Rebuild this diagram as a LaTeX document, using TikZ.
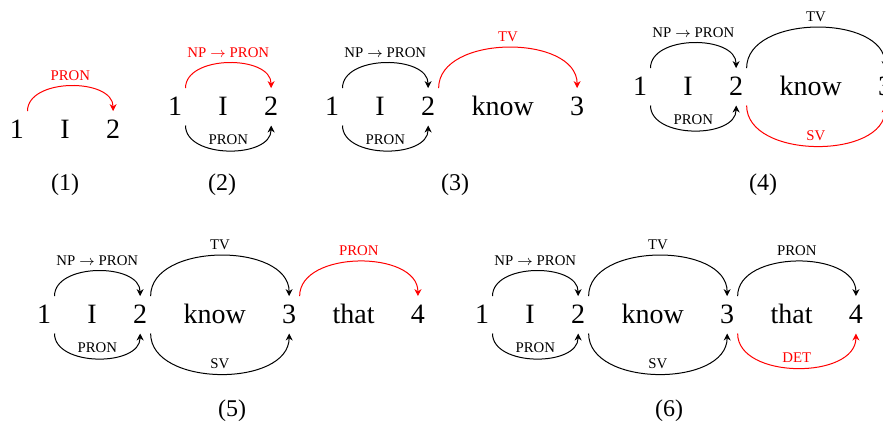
\documentclass[tikz,border=0pt]{standalone}
\usepackage{fontspec}
\setmainfont{Liberation Serif}
\usetikzlibrary{positioning,arrows.meta}

\begin{document}
\begin{tikzpicture}[
  x=0.5pt, y=0.5pt,
  node distance=14.7pt,
  tok/.style={font=\fontsize{14}{17}\selectfont, inner xsep=1.5pt, inner ysep=3.5pt, text height=9.7pt, text depth=1.5pt},
  lab/.style={font=\fontsize{7.4}{9}\selectfont, inner sep=2.5pt},
  capt/.style={font=\fontsize{12}{14}\selectfont, anchor=base},
  line width=0.5pt,
  >={Stealth[length=3.5pt, width=3.5pt]}
]
\useasboundingbox (0,0) rectangle (883,-423);
\clip (0,0) rectangle (883,-423);
% (1)
\node[tok, anchor=base] (a1) at (17,-138) {1};
\node[tok, right=of a1] (aI) {I};
\node[tok, right=of aI] (a2) {2};
\draw[->, red] (a1.north east) to[out=90, in=90] node[lab, above] {PRON} (a2.north);
\node[capt] (capa) at (65,-190) {(1)};
% (2)
\node[tok, anchor=base] (b1) at (175,-115) {1};
\node[tok, right=of b1] (bI) {I};
\node[tok, right=of bI] (b2) {2};
\draw[->, red] (b1.north east) to[out=90, in=90] node[lab, above] {NP $\rightarrow$ PRON} (b2.north);
\draw[->] (b1.south east) to[out=-90, in=-90] node[lab, above] {PRON} (b2.south);
\node[capt] (capb) at (222,-190) {(2)};
% (3)
\node[tok, anchor=base] (c1) at (332,-115) {1};
\node[tok, right=of c1] (cI) {I};
\node[tok, right=of cI] (c2) {2};
\node[tok, right=of c2] (cknow) {know};
\node[tok, right=of cknow] (c3) {3};
\draw[->] (c1.north east) to[out=90, in=90] node[lab, above] {NP $\rightarrow$ PRON} (c2.north);
\draw[->] (c1.south east) to[out=-90, in=-90] node[lab, above] {PRON} (c2.south);
\draw[->, red] (c2.north east) to[out=90, in=90] node[lab, above] {TV} (c3.north);
\node[capt] (capc) at (455,-190) {(3)};
% (4)
\node[tok, anchor=base] (d1) at (640,-95) {1};
\node[tok, right=of d1] (dI) {I};
\node[tok, right=of dI] (d2) {2};
\node[tok, right=of d2] (dknow) {know};
\node[tok, right=of dknow] (d3) {3};
\draw[->] (d1.north east) to[out=90, in=90] node[lab, above] {NP $\rightarrow$ PRON} (d2.north);
\draw[->] (d1.south east) to[out=-90, in=-90] node[lab, above] {PRON} (d2.south);
\draw[->] (d2.north east) to[out=90, in=90] node[lab, above] {TV} (d3.north);
\draw[->, red] (d2.south east) to[out=-90, in=-90] node[lab, above] {SV} (d3.south);
\node[capt] (capd) at (763,-190) {(4)};
% (5)
\node[tok, anchor=base] (e1) at (44,-323) {1};
\node[tok, right=of e1] (eI) {I};
\node[tok, right=of eI] (e2) {2};
\node[tok, right=of e2] (eknow) {know};
\node[tok, right=of eknow] (e3) {3};
\node[tok, right=of e3] (ethat) {that};
\node[tok, right=of ethat] (e4) {4};
\draw[->] (e1.north east) to[out=90, in=90] node[lab, above] {NP $\rightarrow$ PRON} (e2.north);
\draw[->] (e1.south east) to[out=-90, in=-90] node[lab, above] {PRON} (e2.south);
\draw[->] (e2.north east) to[out=90, in=90] node[lab, above] {TV} (e3.north);
\draw[->] (e2.south east) to[out=-90, in=-90] node[lab, above] {SV} (e3.south);
\draw[->, red] (e3.north east) to[out=90, in=90] node[lab, above] {PRON} (e4.north);
\node[capt] (cape) at (232,-416) {(5)};
% (6)
\node[tok, anchor=base] (f1) at (482,-323) {1};
\node[tok, right=of f1] (fI) {I};
\node[tok, right=of fI] (f2) {2};
\node[tok, right=of f2] (fknow) {know};
\node[tok, right=of fknow] (f3) {3};
\node[tok, right=of f3] (fthat) {that};
\node[tok, right=of fthat] (f4) {4};
\draw[->] (f1.north east) to[out=90, in=90] node[lab, above] {NP $\rightarrow$ PRON} (f2.north);
\draw[->] (f1.south east) to[out=-90, in=-90] node[lab, above] {PRON} (f2.south);
\draw[->] (f2.north east) to[out=90, in=90] node[lab, above] {TV} (f3.north);
\draw[->] (f2.south east) to[out=-90, in=-90] node[lab, above] {SV} (f3.south);
\draw[->] (f3.north east) to[out=90, in=90] node[lab, above] {PRON} (f4.north);
\draw[->, red] (f3.south east) to[out=-90, in=-90] node[lab, above] {DET} (f4.south);
\node[capt] (capf) at (669,-416) {(6)};
\end{tikzpicture}
\end{document}
